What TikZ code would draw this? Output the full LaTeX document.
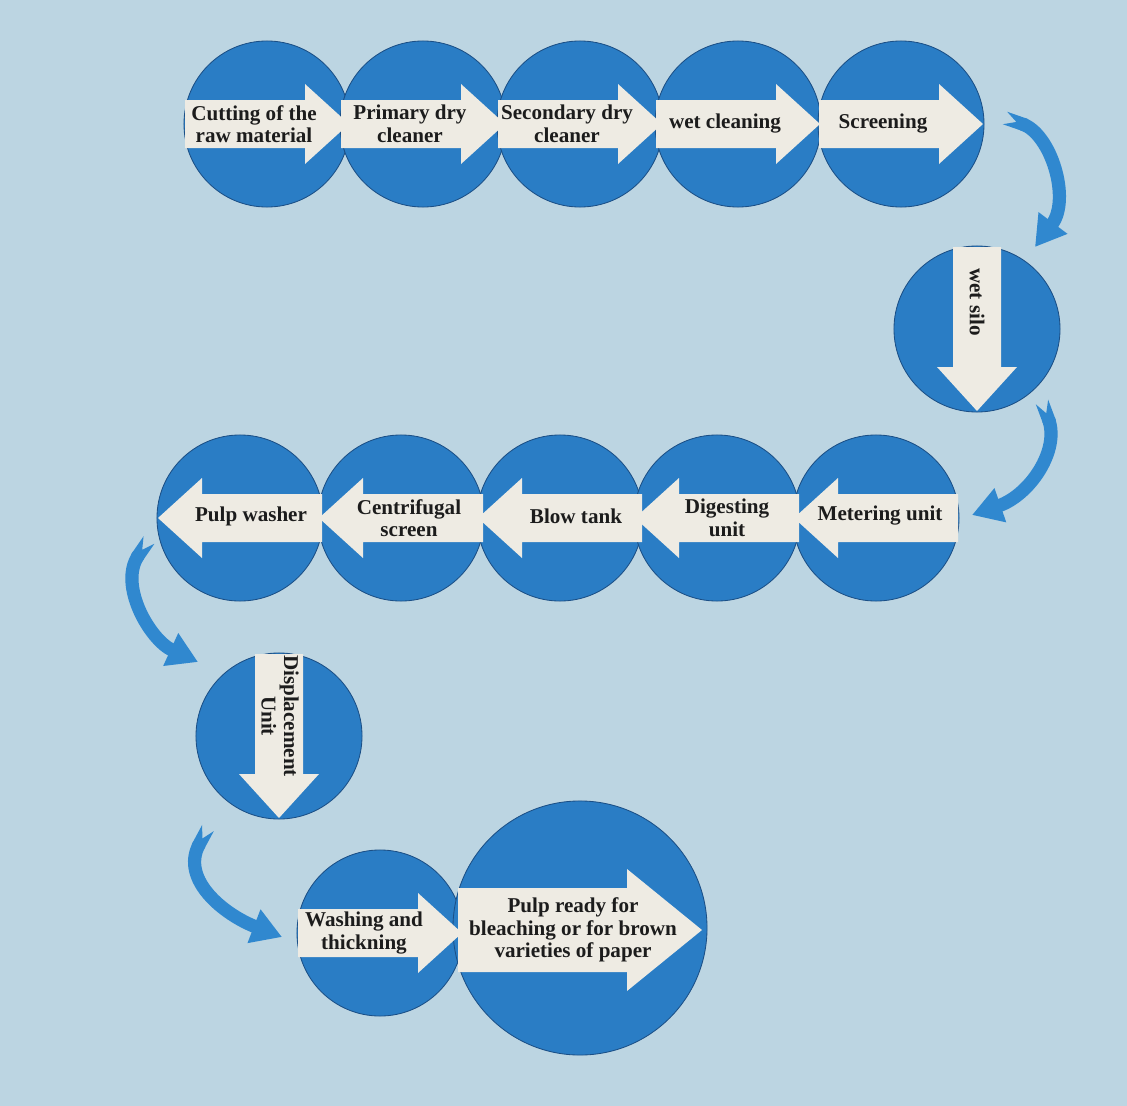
\documentclass[tikz,border=0pt]{standalone}
\usepackage{fontspec}
\setmainfont{Liberation Serif}
\usetikzlibrary{calc,arrows.meta}

\definecolor{bgblue}{HTML}{BCD5E2}
\definecolor{stageblue}{HTML}{2A7DC5}
\definecolor{stageedge}{HTML}{1B4F86}
\definecolor{arrowwhite}{HTML}{EEEBE3}
\definecolor{bendblue}{HTML}{3088CF}
\definecolor{textdark}{HTML}{1C1C1C}

\begin{document}
\begin{tikzpicture}[x=0.025cm, y=-0.025cm,
    stage/.style={circle, fill=stageblue, draw=stageedge, line width=0.6pt,
        minimum size=4.15cm, inner sep=0pt},
    bigstage/.style={stage, minimum size=6.35cm},
    flowarrow/.style={fill=arrowwhite},
    steptext/.style={font=\bfseries\fontsize{15}{16}\selectfont, align=center,
        text=textdark, inner sep=1pt},
    bendarrow/.style={draw=bendblue, line width=0.33cm,
        {Triangle Cap[reversed, length=0.3cm]}-{Triangle[width=0.85cm, length=0.75cm]}}]

    % Background
    \useasboundingbox (0,0) rectangle (1127,1106);
    \fill[bgblue] (0,0) rectangle (1127,1106);

    % The stages (circles first, arrows go on top)
    \foreach \n/\x in {cut/267, pdc/423, sdc/580, wcl/738, scr/901}
        \node[stage] (\n) at (\x,124) {};
    \node[stage] (wsl) at (977,329) {};
    \foreach \n/\x in {pws/240, cfs/401, blw/560, dig/717, mtr/876}
        \node[stage] (\n) at (\x,518) {};
    \node[stage] (dsp) at (279,736) {};
    \node[stage] (wsh) at (380,933) {};
    \node[bigstage] (rdy) at (580,928) {};

    % White arrows inside the circles
    \foreach \n/\a in {cut/0, pdc/0, sdc/0, wcl/0, scr/0, wsl/-90,
            mtr/180, dig/180, blw/180, cfs/180, pws/180, dsp/-90, wsh/0}
        \fill[flowarrow, shift={(\n)}, rotate=\a]
            (-82,-24) -- (38,-24) -- (38,-40) -- (82,0)
            -- (38,40) -- (38,24) -- (-82,24) -- cycle;
    \fill[flowarrow, shift={(rdy)}]
        (-122,-40) -- (47,-40) -- (47,-59) -- (122,2)
        -- (47,63) -- (47,44) -- (-122,44) -- cycle;

    % Labels
    \node[steptext] (cut-t) at ($(cut)+(-13,0)$) {Cutting of the\\raw material};
    \node[steptext] (pdc-t) at ($(pdc)+(-13,0)$) {Primary dry\\cleaner};
    \node[steptext] (sdc-t) at ($(sdc)+(-13,0)$) {Secondary dry\\cleaner};
    \node[steptext] (wcl-t) at ($(wcl)+(-13,0)$) {wet cleaning};
    \node[steptext] (scr-t) at ($(scr)+(-18,0)$) {Screening};
    \node[steptext, rotate=-90] (wsl-t) at ($(wsl)+(0,-27)$) {wet silo};
    \node[steptext] (mtr-t) at ($(mtr)+(4,-2)$) {Metering unit};
    \node[steptext] (dig-t) at ($(dig)+(10,0)$) {Digesting\\unit};
    \node[steptext] (blw-t) at ($(blw)+(16,-2)$) {Blow tank};
    \node[steptext] (cfs-t) at ($(cfs)+(8,0)$) {Centrifugal\\screen};
    \node[steptext] (pws-t) at ($(pws)+(11,-2)$) {Pulp washer};
    \node[steptext, rotate=-90] (dsp-t) at ($(dsp)+(1,-20)$) {Displacement\\Unit};
    \node[steptext] (wsh-t) at ($(wsh)+(-16,0)$) {Washing and\\thickning};
    \node[steptext] (rdy-t) at ($(rdy)+(-7,2)$)
        {Pulp ready for\\bleaching or for brown\\varieties of paper};

    % Bent arrows between the rows
    \draw[bendarrow] ($(scr)+(104,-6)$) .. controls ($(scr)+(150,10)$)
        and ($(scr)+(170,75)$) .. ($(wsl)+(58,-82)$);
    \draw[bendarrow] ($(wsl)+(65,73)$) .. controls ($(wsl)+(83,121)$)
        and ($(mtr)+(154,-23)$) .. ($(mtr)+(96,-3)$);
    \draw[bendarrow] ($(pws)+(-91,22)$) .. controls ($(pws)+(-122,67)$)
        and ($(dsp)+(-129,-96)$) .. ($(dsp)+(-81,-74)$);
    \draw[bendarrow] ($(dsp)+(-71,92)$) .. controls ($(dsp)+(-99,144)$)
        and ($(wsh)+(-155,-18)$) .. ($(wsh)+(-98,4)$);

\end{tikzpicture}
\end{document}
